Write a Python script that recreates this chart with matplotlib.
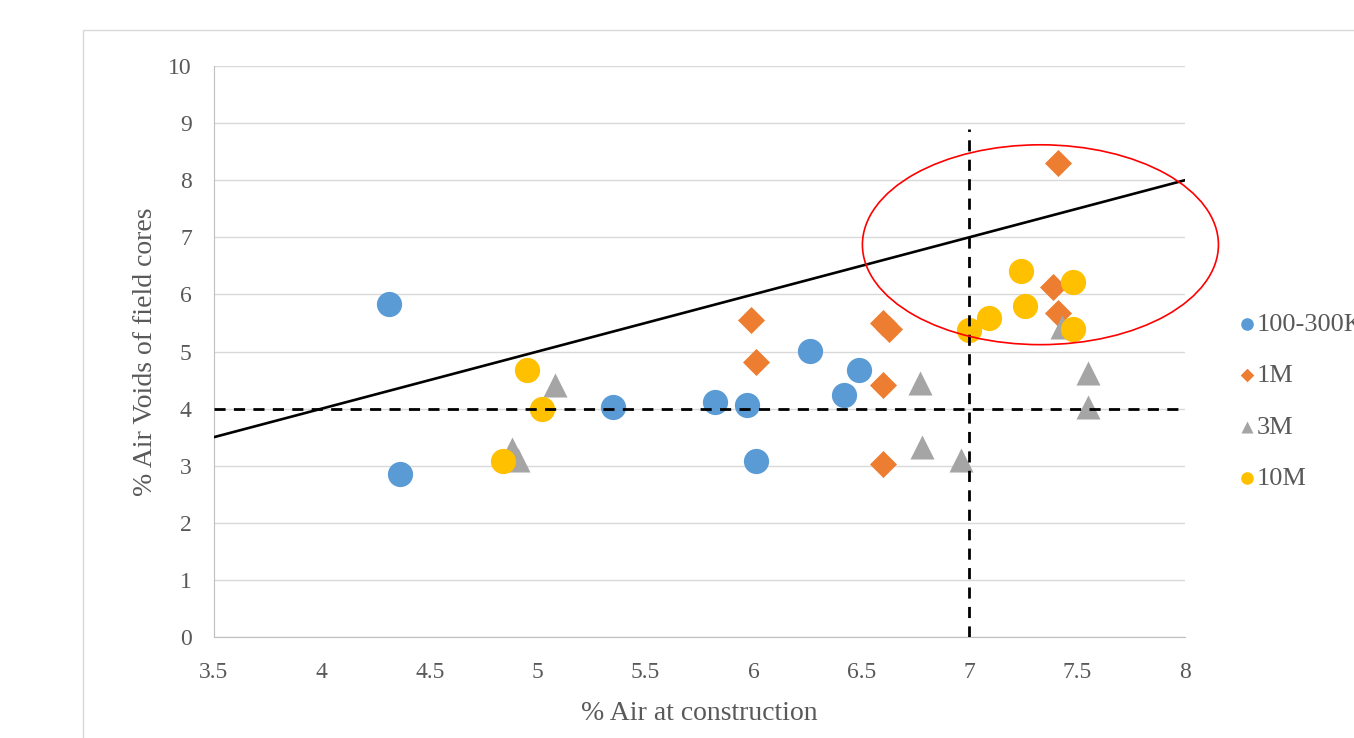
import matplotlib
matplotlib.use("Agg")
import matplotlib.pyplot as plt
from matplotlib.patches import Ellipse, Rectangle

plt.rcParams['font.family'] = ['Liberation Serif', 'DejaVu Serif']

# --- data ---
blue_x = [4.31, 4.36, 5.35, 5.82, 5.97, 6.01, 6.26, 6.49, 6.42]
blue_y = [5.83, 2.85, 4.03, 4.12, 4.06, 3.08, 5.01, 4.68, 4.24]

orange_x = [5.99, 6.01, 6.60, 6.63, 6.60, 6.60, 7.41, 7.39, 7.41]
orange_y = [5.55, 4.82, 5.50, 5.39, 4.41, 3.03, 8.30, 6.13, 5.67]

gray_x = [5.08, 4.88, 4.91, 6.77, 6.78, 6.96, 7.55, 7.55, 7.43]
gray_y = [4.41, 3.30, 3.10, 4.45, 3.33, 3.10, 4.62, 4.03, 5.43]

yellow_x = [4.95, 5.02, 4.84, 7.00, 7.09, 7.24, 7.26, 7.48, 7.48]
yellow_y = [4.68, 3.99, 3.08, 5.38, 5.59, 6.41, 5.80, 6.22, 5.39]

series_labels = ["100-300K", "1M", "3M", "10M"]
x_ticks = [3.5, 4, 4.5, 5, 5.5, 6, 6.5, 7, 7.5, 8]
y_ticks = [0, 1, 2, 3, 4, 5, 6, 7, 8, 9, 10]

line_x = [3.5, 8]
line_y = [3.5, 8]
limit_x = 7
limit_y = 4
limit_top = 8.9

W, H = 1354, 738
fig = plt.figure(figsize=(W / 100, H / 100), dpi=100)

# outer chart frame (cropped on right/bottom)
fig.patches.append(Rectangle((83 / W, -0.1), 1.2, 1 - 30 / H + 0.1,
                             transform=fig.transFigure, fill=False,
                             edgecolor='#d9d9d9', lw=1.0, clip_on=False))

ax = fig.add_axes([214 / W, 1 - 637 / H, (1185 - 214) / W, (637 - 66) / H])

ax.scatter(blue_x, blue_y, s=330, marker='o', color='#5B9BD5', lw=0, zorder=3, label=series_labels[0])
ax.scatter(orange_x, orange_y, s=190, marker='D', color='#ED7D31', lw=0, zorder=3, label=series_labels[1])
ax.scatter(gray_x, gray_y, s=300, marker='^', color='#A5A5A5', lw=0, zorder=3, label=series_labels[2])
ax.scatter(yellow_x, yellow_y, s=330, marker='o', color='#FFC000', lw=0, zorder=3, label=series_labels[3])

ax.plot(line_x, line_y, color='black', lw=1.9, zorder=4)
ax.plot([3.5, 8], [limit_y, limit_y], color='black', lw=2, ls=(0, (4, 3)), zorder=4)
ax.plot([limit_x, limit_x], [0, limit_top], color='black', lw=2, ls=(0, (4, 3)), zorder=4)

ell = Ellipse((7.33, 6.87), 1.65, 3.5, fill=False, edgecolor='red', lw=1.2,
              zorder=5, clip_on=False)
ax.add_patch(ell)

ax.set_xlim(3.5, 8)
ax.set_ylim(0, 10)
ax.set_xticks(x_ticks)
ax.set_xticklabels([f"{t:g}" for t in x_ticks])
ax.set_yticks(y_ticks)
ax.yaxis.grid(True, color='#d9d9d9', lw=1.0)
ax.set_axisbelow(True)
for sp in ['top', 'right']:
    ax.spines[sp].set_visible(False)
for sp in ['left', 'bottom']:
    ax.spines[sp].set_color('#bfbfbf')
ax.tick_params(length=0, labelsize=17, colors='#595959')
ax.tick_params(axis='x', pad=18)
ax.tick_params(axis='y', pad=16)

ax.set_xlabel("% Air at construction", fontsize=20, color='#595959', labelpad=13)
ax.set_ylabel("% Air Voids of field cores", fontsize=20, color='#595959', labelpad=7)

leg = ax.legend(loc='center left', bbox_to_anchor=(1.043, 0.413), frameon=False,
                fontsize=19, labelspacing=1.05, handletextpad=0.05,
                handlelength=0.7, markerscale=0.5, borderaxespad=0)
for t in leg.get_texts():
    t.set_color('#595959')

fig.savefig("out.png", dpi=100)
